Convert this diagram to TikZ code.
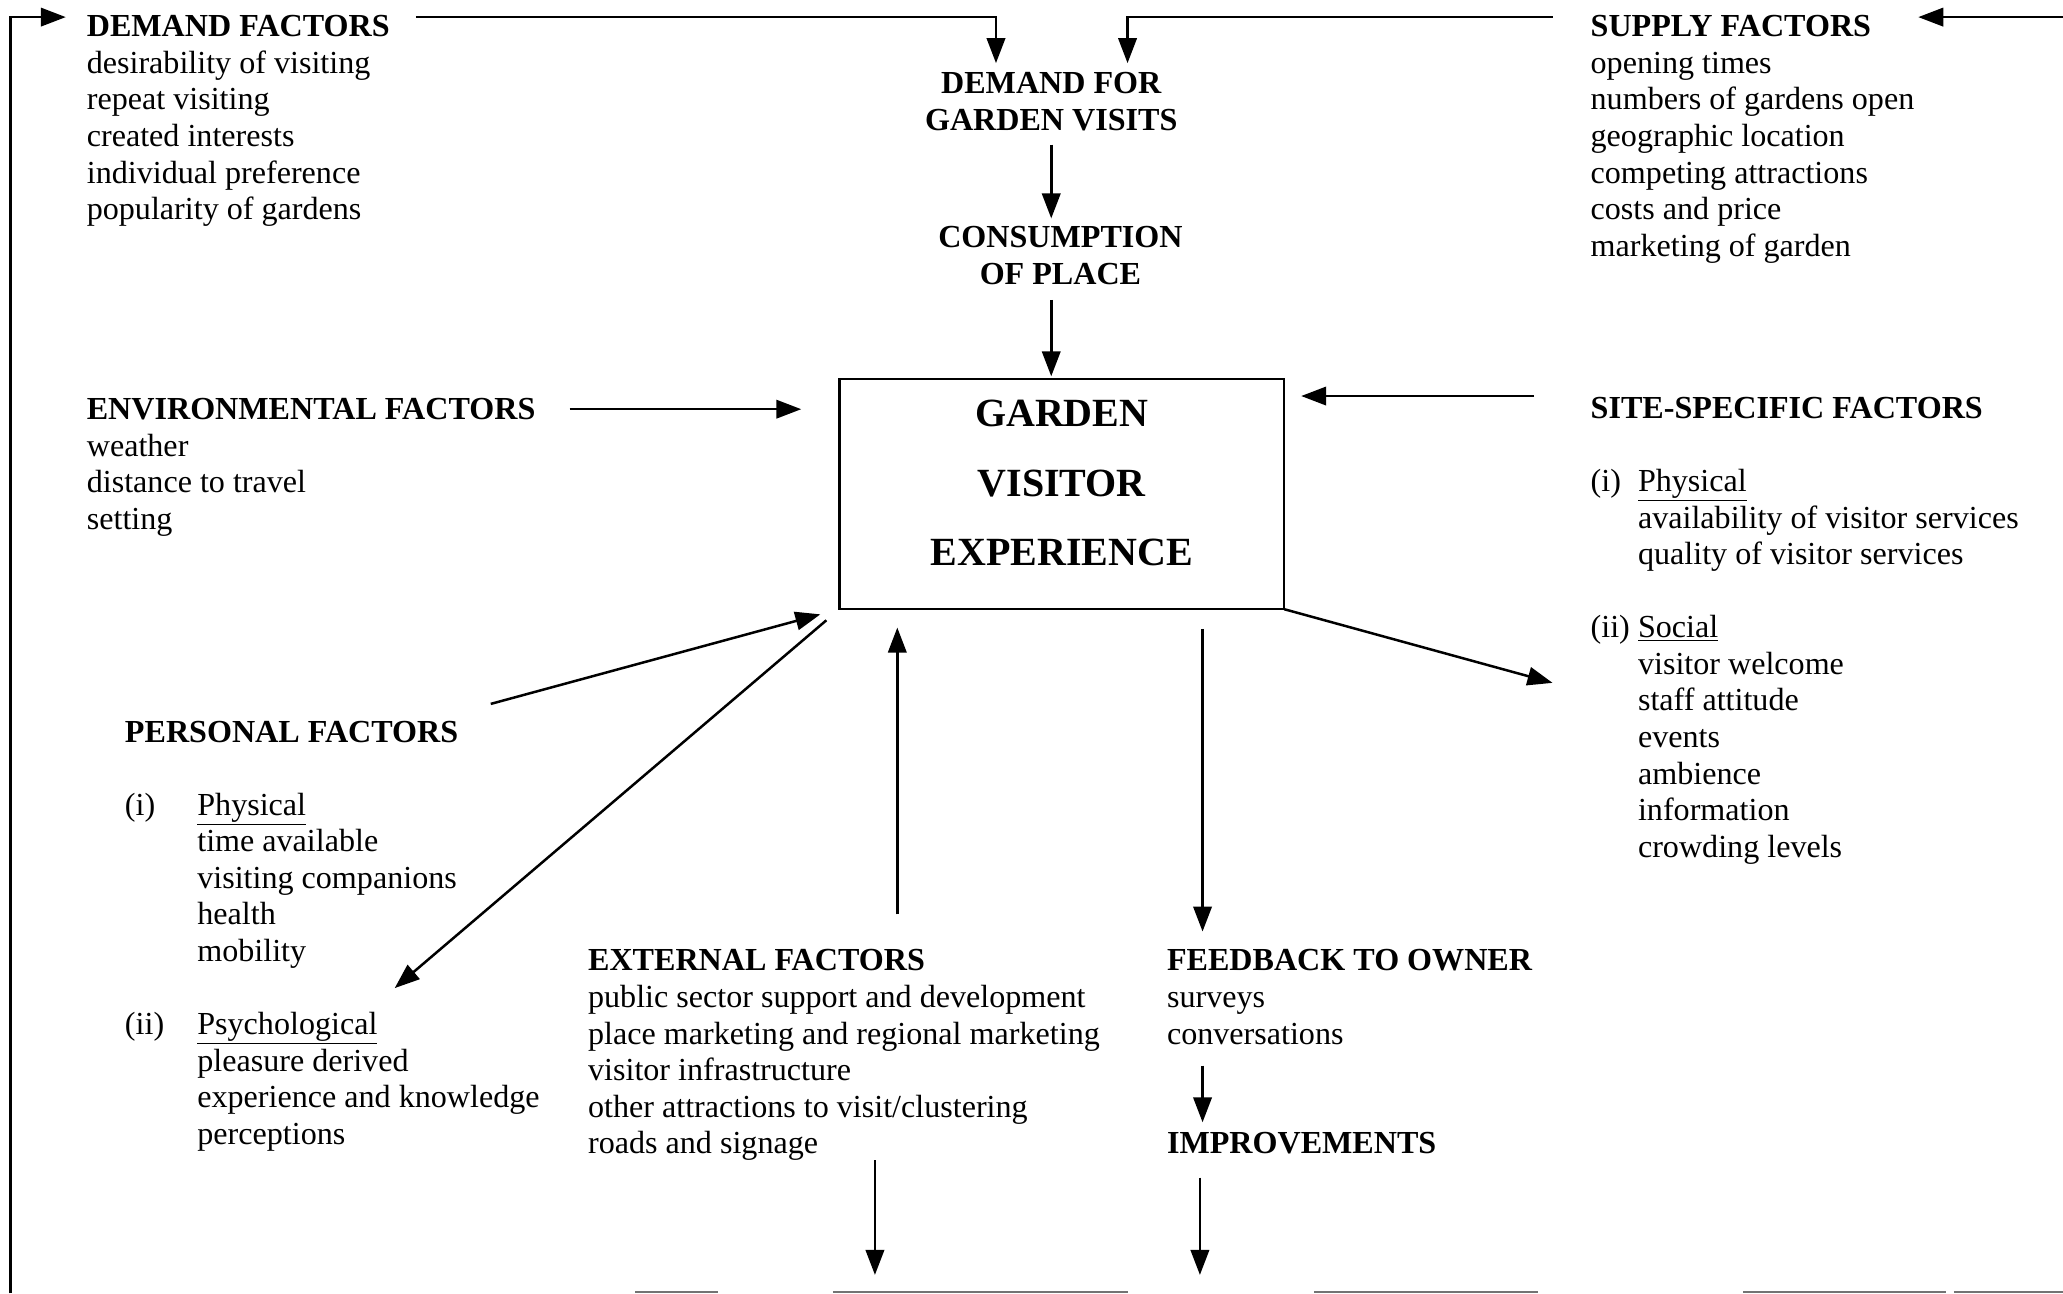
\documentclass[tikz,border=0pt]{standalone}
\usepackage{fontspec}
\setmainfont{Liberation Serif}
\usetikzlibrary{arrows.meta}

% indentation helpers for the numbered sub-lists
\newcommand{\gvlabS}[1]{\makebox[36pt][l]{#1}}
\newcommand{\gvindS}{\hspace*{36pt}}
\newcommand{\gvlabP}[1]{\makebox[55pt][l]{#1}}
\newcommand{\gvindP}{\hspace*{55pt}}

\begin{document}
\begin{tikzpicture}[x=1pt,y=-1pt,
  every node/.style={inner sep=0pt,outer sep=0pt},
  txt/.style={anchor=north west,align=left,font=\fontsize{24.4}{27.8}\selectfont},
  ctr/.style={anchor=north,align=center,font=\fontsize{24.4}{28.5}\selectfont\bfseries},
  boxtext/.style={anchor=north,align=center,font=\fontsize{30.4}{53}\selectfont\bfseries},
  conn/.style={line width=1.9pt,-{Triangle[length=19pt,width=14pt]}},
  edgepiece/.style={line width=1.6pt,black!55}]
\useasboundingbox (0,0) rectangle (1568,983);

% ---------- text blocks ----------
\node[txt] (demand) at (66,8.5) {\strut\textbf{DEMAND FACTORS}\\desirability of visiting\\repeat visiting\\created interests\\individual preference\\popularity of gardens};

\node[txt] (supply) at (1209,8.5) {\strut\textbf{SUPPLY FACTORS}\\opening times\\numbers of gardens open\\geographic location\\competing attractions\\costs and price\\marketing of garden};

\node[ctr] (dfv) at (799,51) {\strut DEMAND FOR\\GARDEN VISITS};
\node[ctr] (cons) at (806,168) {\strut CONSUMPTION\\OF PLACE};

\node[draw,line width=1.9pt,anchor=north west,minimum width=338pt,minimum height=175pt] (gve) at (638,288) {};
\node[boxtext] (gvetxt) at (807,286.9) {\strut GARDEN\\VISITOR\\EXPERIENCE};

\node[txt] (env) at (66,299.5) {\strut\textbf{ENVIRONMENTAL FACTORS}\\weather\\distance to travel\\setting};

\node[txt] (site) at (1209,298.5) {\strut\textbf{SITE-SPECIFIC FACTORS}\\ \\
  \gvlabS{(i)}\underline{Physical}\\
  \gvindS availability of visitor services\\
  \gvindS quality of visitor services\\ \\
  \gvlabS{(ii)}\underline{Social}\\
  \gvindS visitor welcome\\
  \gvindS staff attitude\\
  \gvindS events\\
  \gvindS ambience\\
  \gvindS information\\
  \gvindS crowding levels};

\node[txt] (pers) at (95,544.5) {\strut\textbf{PERSONAL FACTORS}\\ \\
  \gvlabP{(i)}\underline{Physical}\\
  \gvindP time available\\
  \gvindP visiting companions\\
  \gvindP health\\
  \gvindP mobility\\ \\
  \gvlabP{(ii)}\underline{Psychological}\\
  \gvindP pleasure derived\\
  \gvindP experience and knowledge\\
  \gvindP perceptions};

\node[txt] (ext) at (447,718.5) {\strut\textbf{EXTERNAL FACTORS}\\public sector support and development\\place marketing and regional marketing\\visitor infrastructure\\other attractions to visit/clustering\\roads and signage};

\node[txt] (fb) at (887,718.5) {\strut\textbf{FEEDBACK TO OWNER}\\surveys\\conversations};

\node[txt] (impr) at (887,857.5) {\strut\textbf{IMPROVEMENTS}};

% ---------- connector end points ----------
\coordinate (loopB) at (8,983);
\coordinate (loopT) at (8,13);
\coordinate (demIn) at (50,13);
\coordinate (demOut) at (316,13);
\coordinate (dfvBendL) at (757,13);
\coordinate (dfvInL) at (757,48);
\coordinate (supOut) at (1180,13);
\coordinate (dfvBendR) at (857,13);
\coordinate (dfvInR) at (857,48);
\coordinate (rEdge) at (1568,13);
\coordinate (supIn) at (1458,13);
\coordinate (dfvOut) at (799,110);
\coordinate (consIn) at (799,166);
\coordinate (consOut) at (799,228);
\coordinate (envOut) at (433,311);
\coordinate (siteOut) at (1166,301);
\coordinate (persOut) at (373,535);
\coordinate (psyIn) at (300,751);
\coordinate (extUp) at (682,695);
\coordinate (fbIn) at (914,708);
\coordinate (socIn) at (1180,519);
\coordinate (fbOut) at (914,810);
\coordinate (imprIn) at (914,853);
\coordinate (extOut) at (665,882);
\coordinate (extEnd) at (665,969);
\coordinate (imprOut) at (912,895);
\coordinate (imprEnd) at (912,969);

% ---------- connectors ----------
\draw[conn] (loopB) -- (loopT) -- (demIn);
\draw[conn] (demOut) -- (dfvBendL) -- (dfvInL);
\draw[conn] (supOut) -- (dfvBendR) -- (dfvInR);
\draw[conn] (rEdge) -- (supIn);
\draw[conn] (dfvOut) -- (consIn);
\draw[conn,shorten >=2pt] (consOut) -- (consOut |- gve.north);
\draw[conn,shorten >=29pt] (envOut) -- (envOut -| gve.west);
\draw[conn,shorten >=13pt] (siteOut) -- (siteOut -| gve.east);
\draw[conn,shorten >=15pt] (persOut) -- (gve.south west);
\draw[conn,shorten <=13pt] (gve.south west) -- (psyIn);
\draw[conn,shorten >=14pt] (extUp) -- (extUp |- gve.south);
\draw[conn,shorten <=15pt] (fbIn |- gve.south) -- (fbIn);
\draw[conn] (gve.south east) -- (socIn);
\draw[conn] (fbOut) -- (imprIn);
\draw[conn] (extOut) -- (extEnd);
\draw[conn] (imprOut) -- (imprEnd);

% ---------- line running along the lower edge ----------
\draw[edgepiece] (483,982.2) -- (546,982.2);
\draw[edgepiece] (633,982.2) -- (857,982.2);
\draw[edgepiece] (999,982.2) -- (1169,982.2);
\draw[edgepiece] (1325,982.2) -- (1479,982.2);
\draw[edgepiece] (1485,982.2) -- (1568,982.2);
\end{tikzpicture}
\end{document}
